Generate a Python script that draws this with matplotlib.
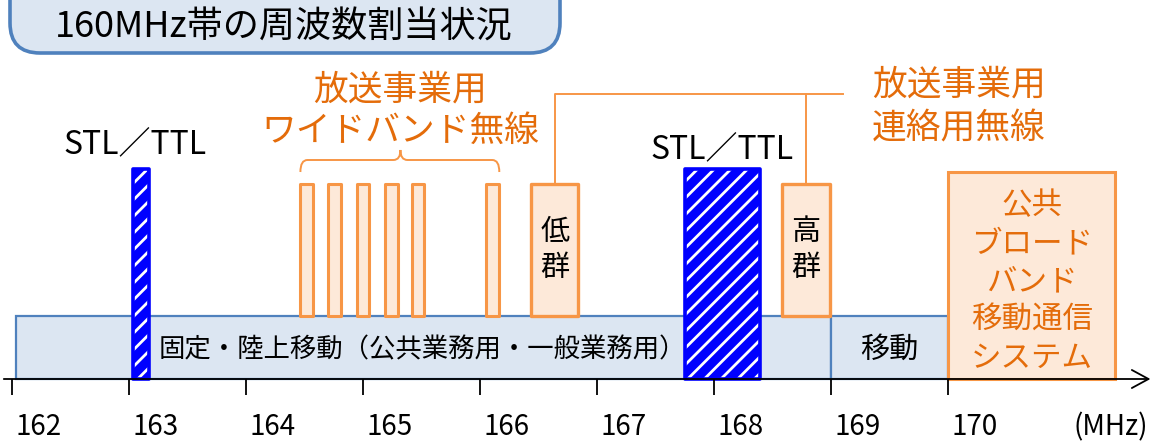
import matplotlib
matplotlib.use('Agg')
import matplotlib.pyplot as plt
from matplotlib.patches import FancyBboxPatch
from matplotlib.path import Path
from matplotlib.patches import PathPatch

plt.rcParams['font.family'] = ['Noto Sans CJK JP', 'DejaVu Sans']
plt.rcParams['hatch.linewidth'] = 2.0

# ── Data (MHz) ────────────────────────────────────────────────────────────────
TITLE = '160MHz帯の周波数割当状況'
TICKS = [162, 163, 164, 165, 166, 167, 168, 169, 170]
UNIT = '(MHz)'

STL_BANDS = [(163.03, 163.17), (167.75, 168.39)]
STL_LABEL = 'STL／TTL'

WIDE_CENTERS = [164.52, 164.76, 165.00, 165.24, 165.47, 166.11]
WIDE_WIDTH = 0.11
WIDE_LABEL = '放送事業用\nワイドバンド無線'

LINK_BANDS = [(166.44, 166.84), (168.58, 168.99)]
LINK_NAMES = ['低\n群', '高\n群']
LINK_LABEL = '放送事業用\n連絡用無線'

FIXED_BAND = (162.03, 169.0)
FIXED_LABEL = '固定・陸上移動（公共業務用・一般業務用）'
MOBILE_BAND = (169.0, 170.0)
MOBILE_LABEL = '移動'
PUBLIC_BAND = (170.0, 171.43)
PUBLIC_LABEL = '公共\nブロード\nバンド\n移動通信\nシステム'

# ── Styles ────────────────────────────────────────────────────────────────────
ORANGE_EDGE = '#F79646'
ORANGE_FILL = '#FDE9D9'
ORANGE_TEXT = '#E46C0A'
BLUE_FILL = '#DCE6F2'
BLUE_EDGE = '#4F81BD'
STL_BLUE = '#0000FF'

AXIS_Y = 379          # pixel rows (y axis is in pixels, top = 0)
BAND_TOP = 316

fig = plt.figure(figsize=(11.55, 4.41), dpi=100)
ax = fig.add_axes([0, 0, 1, 1])
ax.set_xlim(162 - 12 / 117, 162 + 1143 / 117)
ax.set_ylim(441, 0)
ax.axis('off')

# background bands
for (lo, hi), fc, ec in [(FIXED_BAND, BLUE_FILL, BLUE_EDGE),
                         (MOBILE_BAND, BLUE_FILL, BLUE_EDGE)]:
    ax.bar(lo, BAND_TOP - AXIS_Y, width=hi - lo, bottom=AXIS_Y, align='edge',
           facecolor=fc, edgecolor=ec, linewidth=1.6, zorder=1)
ax.bar(PUBLIC_BAND[0], 172 - AXIS_Y, width=PUBLIC_BAND[1] - PUBLIC_BAND[0],
       bottom=AXIS_Y, align='edge', facecolor=ORANGE_FILL,
       edgecolor=ORANGE_EDGE, linewidth=2.2, zorder=1)

ax.text(165.51, 350, FIXED_LABEL, ha='center', va='center',
        fontsize=19, zorder=3)
ax.text(sum(MOBILE_BAND) / 2, 350, MOBILE_LABEL, ha='center', va='center',
        fontsize=21, zorder=3)
ax.text(sum(PUBLIC_BAND) / 2, 282, PUBLIC_LABEL, ha='center', va='center',
        fontsize=22, color=ORANGE_TEXT, linespacing=1.3, zorder=3)

# wideband channels
ax.bar([c - WIDE_WIDTH / 2 for c in WIDE_CENTERS], 184 - BAND_TOP,
       width=WIDE_WIDTH, bottom=BAND_TOP, align='edge', facecolor=ORANGE_FILL,
       edgecolor=ORANGE_EDGE, linewidth=2.2, joinstyle='round', zorder=2)

# link channels
for (lo, hi), name in zip(LINK_BANDS, LINK_NAMES):
    ax.bar(lo, 184 - BAND_TOP, width=hi - lo, bottom=BAND_TOP, align='edge',
           facecolor=ORANGE_FILL, edgecolor=ORANGE_EDGE, linewidth=2.4,
           joinstyle='round', zorder=2)
    ax.text((lo + hi) / 2, 250, name, ha='center', va='center', fontsize=21,
            linespacing=1.25, zorder=3)

# STL/TTL (hatched blue)
for lo, hi in STL_BANDS:
    ax.bar(lo, 169 - AXIS_Y, width=hi - lo, bottom=AXIS_Y, align='edge',
           facecolor=STL_BLUE, edgecolor='white', hatch='//', linewidth=0,
           zorder=4)
    ax.bar(lo, 169 - AXIS_Y, width=hi - lo, bottom=AXIS_Y, align='edge',
           fill=False, edgecolor=STL_BLUE, linewidth=2.6, joinstyle='round',
           zorder=5)
ax.text(163.05, 144, STL_LABEL, ha='center', va='center', fontsize=23)
ax.text(sum(STL_BANDS[1]) / 2, 149, STL_LABEL, ha='center', va='center',
        fontsize=23)

# brace above wideband channels
x0, x1 = WIDE_CENTERS[0] - WIDE_WIDTH / 2, WIDE_CENTERS[-1] + WIDE_WIDTH / 2
xm, r = 165.32, 0.06
verts = [(x0, 172), (x0, 160), (x0 + r, 160), (xm - r, 160), (xm, 160), (xm, 150),
         (xm, 160), (xm + r, 160), (x1 - r, 160), (x1, 160), (x1, 172)]
codes = [Path.MOVETO, Path.CURVE3, Path.CURVE3, Path.LINETO, Path.CURVE3,
         Path.CURVE3, Path.CURVE3, Path.CURVE3, Path.LINETO, Path.CURVE3,
         Path.CURVE3]
ax.add_patch(PathPatch(Path(verts, codes), fill=False, edgecolor=ORANGE_EDGE,
                       linewidth=1.4))
ax.text(xm, 111, WIDE_LABEL, ha='center', va='center', fontsize=25,
        color=ORANGE_TEXT, linespacing=1.25)

# connector for link channels
low_c = sum(LINK_BANDS[0]) / 2
high_c = sum(LINK_BANDS[1]) / 2
ax.plot([low_c, low_c, 169.10], [184, 94, 94], color=ORANGE_EDGE, lw=1.4)
ax.plot([high_c, high_c], [184, 94], color=ORANGE_EDGE, lw=1.4)
ax.text(169.35, 107, LINK_LABEL, ha='left', va='center', fontsize=25,
        color=ORANGE_TEXT, linespacing=1.3)

# frequency axis
ax.annotate('', xy=(171.73, AXIS_Y), xytext=(161.93, AXIS_Y),
            arrowprops=dict(arrowstyle='->,head_length=1.2,head_width=0.65',
                            lw=1.3, color='black', shrinkA=0, shrinkB=0),
            zorder=6)
ax.vlines(TICKS, AXIS_Y, 395, color='black', lw=1.3, zorder=6)
for t in TICKS:
    ax.text(t + 3 / 117, 427, str(t), ha='left', va='center', fontsize=20)
ax.text(171.07, 427, UNIT, ha='left', va='center', fontsize=20)

# title box (pixel coordinates)
axp = fig.add_axes([0, 0, 1, 1])
axp.set_xlim(0, 1155)
axp.set_ylim(441, 0)
axp.axis('off')
axp.add_patch(FancyBboxPatch((10 + 30, -30 + 30), 550 - 60, 83 - 60,
                             boxstyle='round,pad=30', facecolor=BLUE_FILL,
                             edgecolor=BLUE_EDGE, linewidth=2.6))
axp.text(55, 28, TITLE, ha='left', va='center', fontsize=26)

fig.savefig('out.png', dpi=100)
